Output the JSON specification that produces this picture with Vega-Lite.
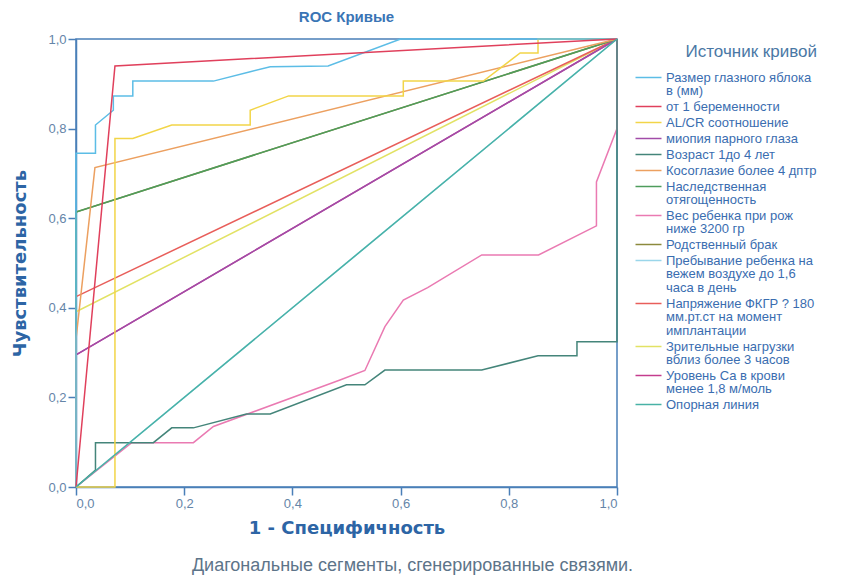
{
  "$schema": "https://vega.github.io/schema/vega-lite/v6.json",
  "width": 541,
  "height": 448,
  "autosize": "none",
  "padding": {"left": 76, "top": 39, "right": 230, "bottom": 88},
  "background": "white",
  "config": {
    "font": "Liberation Sans",
    "style": {"guide-label": {"lineHeight": 13.5}},
    "view": {"stroke": "#4a7fb8", "strokeWidth": 1.5},
    "axis": {
      "domainColor": "#4a7fb8", "tickColor": "#4a7fb8", "domainWidth": 1.5, "tickWidth": 1.5, "tickSize": 8,
      "grid": false, "labelColor": "#6585a8", "labelFontSize": 13, "labelFont": "Liberation Sans", "labelPadding": 2,
      "titleFont": "DejaVu Sans", "titleFontWeight": "bold", "titleColor": "#2d65a5", "titleFontSize": 18
    }
  },
  "title": {"text": "ROC Кривые", "fontSize": 15, "fontWeight": "bold", "color": "#3a75b5", "anchor": "middle", "frame": "group", "offset": 8},
  "datasets": {
    "roc": [
      {"c": "Пребывание ребенка на\nвежем воздухе до 1,6\nчаса в день", "i": 0, "x": 0, "y": 0},
      {"c": "Пребывание ребенка на\nвежем воздухе до 1,6\nчаса в день", "i": 1, "x": 1, "y": 1},
      {"c": "Родственный брак", "i": 0, "x": 0, "y": 0},
      {"c": "Родственный брак", "i": 1, "x": 0, "y": 0.614},
      {"c": "Родственный брак", "i": 2, "x": 1, "y": 1},
      {"c": "Уровень Са в крови\nменее 1,8 м/моль", "i": 0, "x": 0, "y": 0},
      {"c": "Уровень Са в крови\nменее 1,8 м/моль", "i": 1, "x": 0, "y": 0.295},
      {"c": "Уровень Са в крови\nменее 1,8 м/моль", "i": 2, "x": 1, "y": 1},
      {"c": "Зрительные нагрузки\nвблиз более 3 часов", "i": 0, "x": 0, "y": 0},
      {"c": "Зрительные нагрузки\nвблиз более 3 часов", "i": 1, "x": 0, "y": 0.391},
      {"c": "Зрительные нагрузки\nвблиз более 3 часов", "i": 2, "x": 1, "y": 1},
      {"c": "Напряжение ФКГР ? 180\nмм.рт.ст на момент\nимплантации", "i": 0, "x": 0, "y": 0},
      {"c": "Напряжение ФКГР ? 180\nмм.рт.ст на момент\nимплантации", "i": 1, "x": 0, "y": 0.425},
      {"c": "Напряжение ФКГР ? 180\nмм.рт.ст на момент\nимплантации", "i": 2, "x": 1, "y": 1},
      {"c": "миопия парного глаза", "i": 0, "x": 0, "y": 0},
      {"c": "миопия парного глаза", "i": 1, "x": 0, "y": 0.295},
      {"c": "миопия парного глаза", "i": 2, "x": 1, "y": 1},
      {"c": "Наследственная\nотягощенность", "i": 0, "x": 0, "y": 0},
      {"c": "Наследственная\nотягощенность", "i": 1, "x": 0, "y": 0.614},
      {"c": "Наследственная\nотягощенность", "i": 2, "x": 1, "y": 1},
      {"c": "Косоглазие более 4 дптр", "i": 0, "x": 0, "y": 0},
      {"c": "Косоглазие более 4 дптр", "i": 1, "x": 0, "y": 0.33},
      {"c": "Косоглазие более 4 дптр", "i": 2, "x": 0.035, "y": 0.713},
      {"c": "Косоглазие более 4 дптр", "i": 3, "x": 1, "y": 1},
      {"c": "Вес ребенка при рож\nниже 3200 гр", "i": 0, "x": 0, "y": 0},
      {"c": "Вес ребенка при рож\nниже 3200 гр", "i": 1, "x": 0.103, "y": 0.099},
      {"c": "Вес ребенка при рож\nниже 3200 гр", "i": 2, "x": 0.217, "y": 0.099},
      {"c": "Вес ребенка при рож\nниже 3200 гр", "i": 3, "x": 0.254, "y": 0.135},
      {"c": "Вес ребенка при рож\nниже 3200 гр", "i": 4, "x": 0.488, "y": 0.239},
      {"c": "Вес ребенка при рож\nниже 3200 гр", "i": 5, "x": 0.534, "y": 0.26},
      {"c": "Вес ребенка при рож\nниже 3200 гр", "i": 6, "x": 0.571, "y": 0.358},
      {"c": "Вес ребенка при рож\nниже 3200 гр", "i": 7, "x": 0.605, "y": 0.417},
      {"c": "Вес ребенка при рож\nниже 3200 гр", "i": 8, "x": 0.65, "y": 0.445},
      {"c": "Вес ребенка при рож\nниже 3200 гр", "i": 9, "x": 0.75, "y": 0.518},
      {"c": "Вес ребенка при рож\nниже 3200 гр", "i": 10, "x": 0.855, "y": 0.518},
      {"c": "Вес ребенка при рож\nниже 3200 гр", "i": 11, "x": 0.962, "y": 0.583},
      {"c": "Вес ребенка при рож\nниже 3200 гр", "i": 12, "x": 0.962, "y": 0.681},
      {"c": "Вес ребенка при рож\nниже 3200 гр", "i": 13, "x": 1, "y": 0.8},
      {"c": "Вес ребенка при рож\nниже 3200 гр", "i": 14, "x": 1, "y": 1},
      {"c": "Возраст 1до 4 лет", "i": 0, "x": 0, "y": 0},
      {"c": "Возраст 1до 4 лет", "i": 1, "x": 0.036, "y": 0.038},
      {"c": "Возраст 1до 4 лет", "i": 2, "x": 0.036, "y": 0.099},
      {"c": "Возраст 1до 4 лет", "i": 3, "x": 0.143, "y": 0.099},
      {"c": "Возраст 1до 4 лет", "i": 4, "x": 0.177, "y": 0.132},
      {"c": "Возраст 1до 4 лет", "i": 5, "x": 0.217, "y": 0.132},
      {"c": "Возраст 1до 4 лет", "i": 6, "x": 0.315, "y": 0.163},
      {"c": "Возраст 1до 4 лет", "i": 7, "x": 0.359, "y": 0.163},
      {"c": "Возраст 1до 4 лет", "i": 8, "x": 0.5, "y": 0.228},
      {"c": "Возраст 1до 4 лет", "i": 9, "x": 0.534, "y": 0.228},
      {"c": "Возраст 1до 4 лет", "i": 10, "x": 0.571, "y": 0.261},
      {"c": "Возраст 1до 4 лет", "i": 11, "x": 0.75, "y": 0.261},
      {"c": "Возраст 1до 4 лет", "i": 12, "x": 0.854, "y": 0.293},
      {"c": "Возраст 1до 4 лет", "i": 13, "x": 0.926, "y": 0.293},
      {"c": "Возраст 1до 4 лет", "i": 14, "x": 0.926, "y": 0.324},
      {"c": "Возраст 1до 4 лет", "i": 15, "x": 1, "y": 0.324},
      {"c": "Возраст 1до 4 лет", "i": 16, "x": 1, "y": 1},
      {"c": "AL/CR соотношение", "i": 0, "x": 0, "y": 0},
      {"c": "AL/CR соотношение", "i": 1, "x": 0.072, "y": 0},
      {"c": "AL/CR соотношение", "i": 2, "x": 0.072, "y": 0.778},
      {"c": "AL/CR соотношение", "i": 3, "x": 0.105, "y": 0.778},
      {"c": "AL/CR соотношение", "i": 4, "x": 0.177, "y": 0.808},
      {"c": "AL/CR соотношение", "i": 5, "x": 0.322, "y": 0.808},
      {"c": "AL/CR соотношение", "i": 6, "x": 0.322, "y": 0.841},
      {"c": "AL/CR соотношение", "i": 7, "x": 0.393, "y": 0.873},
      {"c": "AL/CR соотношение", "i": 8, "x": 0.605, "y": 0.873},
      {"c": "AL/CR соотношение", "i": 9, "x": 0.605, "y": 0.906},
      {"c": "AL/CR соотношение", "i": 10, "x": 0.753, "y": 0.906},
      {"c": "AL/CR соотношение", "i": 11, "x": 0.821, "y": 0.969},
      {"c": "AL/CR соотношение", "i": 12, "x": 0.854, "y": 0.969},
      {"c": "AL/CR соотношение", "i": 13, "x": 0.854, "y": 1},
      {"c": "AL/CR соотношение", "i": 14, "x": 1, "y": 1},
      {"c": "Размер глазного яблока\nв (мм)", "i": 0, "x": 0, "y": 0},
      {"c": "Размер глазного яблока\nв (мм)", "i": 1, "x": 0, "y": 0.745},
      {"c": "Размер глазного яблока\nв (мм)", "i": 2, "x": 0.036, "y": 0.745},
      {"c": "Размер глазного яблока\nв (мм)", "i": 3, "x": 0.036, "y": 0.808},
      {"c": "Размер глазного яблока\nв (мм)", "i": 4, "x": 0.069, "y": 0.841},
      {"c": "Размер глазного яблока\nв (мм)", "i": 5, "x": 0.069, "y": 0.873},
      {"c": "Размер глазного яблока\nв (мм)", "i": 6, "x": 0.105, "y": 0.873},
      {"c": "Размер глазного яблока\nв (мм)", "i": 7, "x": 0.105, "y": 0.906},
      {"c": "Размер глазного яблока\nв (мм)", "i": 8, "x": 0.254, "y": 0.906},
      {"c": "Размер глазного яблока\nв (мм)", "i": 9, "x": 0.322, "y": 0.927},
      {"c": "Размер глазного яблока\nв (мм)", "i": 10, "x": 0.359, "y": 0.938},
      {"c": "Размер глазного яблока\nв (мм)", "i": 11, "x": 0.466, "y": 0.94},
      {"c": "Размер глазного яблока\nв (мм)", "i": 12, "x": 0.6, "y": 1},
      {"c": "Размер глазного яблока\nв (мм)", "i": 13, "x": 1, "y": 1},
      {"c": "от 1 беременности", "i": 0, "x": 0, "y": 0},
      {"c": "от 1 беременности", "i": 1, "x": 0.072, "y": 0.94},
      {"c": "от 1 беременности", "i": 2, "x": 1, "y": 1}
    ],
    "ref": [
      {"c": "Опорная линия", "i": 0, "x": 0, "y": 0},
      {"c": "Опорная линия", "i": 1, "x": 1, "y": 1}
    ]
  },
  "resolve": {"axis": {"x": "independent"}},
  "layer": [
    {
      "data": {"name": "roc"},
      "mark": {"type": "line", "strokeWidth": 1.5},
      "encoding": {
        "x": {"field": "x", "type": "quantitative", "scale": {"domain": [0, 1], "nice": false},
          "axis": {"orient": "bottom", "values": [0, 0.2, 0.4, 0.6, 0.8, 1], "labelExpr": "replace(format(datum.value, '.1f'), '.', ',')", "title": "1 - Специфичность", "titlePadding": 9}},
        "y": {"field": "y", "type": "quantitative", "scale": {"domain": [0, 1], "nice": false},
          "axis": {"values": [0, 0.2, 0.4, 0.6, 0.8, 1], "labelExpr": "replace(format(datum.value, '.1f'), '.', ',')", "title": "Чувствительность", "titlePadding": 18}},
        "color": {"field": "c", "type": "nominal",
          "scale": {
            "domain": ["Размер глазного яблока\nв (мм)", "от 1 беременности", "AL/CR соотношение", "миопия парного глаза", "Возраст 1до 4 лет", "Косоглазие более 4 дптр", "Наследственная\nотягощенность", "Вес ребенка при рож\nниже 3200 гр", "Родственный брак", "Пребывание ребенка на\nвежем воздухе до 1,6\nчаса в день", "Напряжение ФКГР ? 180\nмм.рт.ст на момент\nимплантации", "Зрительные нагрузки\nвблиз более 3 часов", "Уровень Са в крови\nменее 1,8 м/моль", "Опорная линия"],
            "range": ["#5cbde6", "#e0405c", "#f2d548", "#a24ca8", "#44857a", "#eca060", "#4e9c5c", "#ea7ab2", "#8c8a3c", "#9ad6ea", "#e85e5a", "#e2e264", "#c43c8e", "#48b2a6"]
          },
          "legend": {"title": "Источник кривой", "orient": "none", "legendX": 553, "legendY": 5, "padding": 0, "titleAnchor": "end",
            "titleFontSize": 17, "titleFontWeight": "normal", "titleColor": "#4a78a5", "titlePadding": 10,
            "labelFontSize": 13, "labelColor": "#3a6db0", "labelExpr": "split(datum.label, '\\n')", "labelLimit": 220,
            "symbolType": "M0,0H26", "symbolSize": 4, "symbolStrokeWidth": 1.5, "labelOffset": 24, "rowPadding": 2}
        },
        "order": {"field": "i"}
      }
    },
    {
      "data": {"name": "ref"},
      "mark": {"type": "line", "strokeWidth": 1.5},
      "encoding": {
        "x": {"field": "x", "type": "quantitative", "scale": {"domain": [0, 1], "nice": false},
          "axis": {"orient": "bottom", "domain": false, "ticks": false, "labels": false, "grid": false,
            "title": "Диагональные сегменты, сгенерированные связями.", "titleFont": "Liberation Sans", "titleFontWeight": "normal", "titleFontSize": 18,
            "titleColor": "#5d7489", "titleX": 336, "titleY": 69, "titleAlign": "center", "titleBaseline": "top"}},
        "y": {"field": "y", "type": "quantitative", "scale": {"domain": [0, 1], "nice": false}},
        "color": {"field": "c", "type": "nominal"},
        "order": {"field": "i"}
      }
    }
  ]
}
